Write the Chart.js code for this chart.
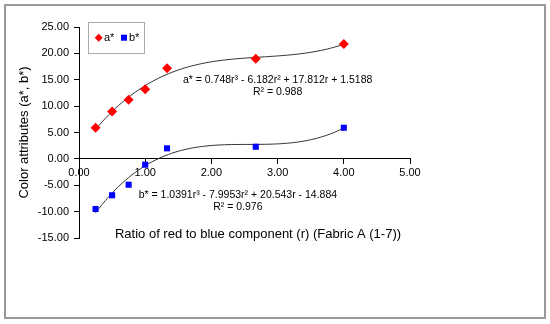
<!DOCTYPE html>
<html>
<head>
<meta charset="utf-8">
<script src="https://cdn.jsdelivr.net/npm/chart.js@4/dist/chart.umd.min.js"></script>
<style>
  html, body { margin: 0; padding: 0; background: #fff; }
  canvas { display: block; }
</style>
</head>
<body>
<canvas id="colorChart" width="550" height="324"></canvas>
<script>
// ratio r and measured colour attributes (Fabric A, samples 1-7)
const ratios = [0.25, 0.5, 0.75, 1.0, 1.33, 2.67, 4.0];
const aStar = [5.9, 9.0, 11.2, 13.2, 17.2, 19.0, 21.8];
const bStar = [-9.5, -6.9, -4.9, -1.1, 2.0, 2.3, 5.9];

// printed trendline equations (3rd order polynomial, highest power first)
const aCoef = [0.748, -6.182, 17.812, 1.5188];
const bCoef = [1.0391, -7.9953, 20.543, -14.884];
const trendFrom = 0.25;
const trendTo = 4.0;

const xTicks = [0, 1, 2, 3, 4, 5];
const yTicks = [-15, -10, -5, 0, 5, 10, 15, 20, 25];

const aLabel = ['a* = 0.748r³ - 6.182r² + 17.812r + 1.5188', 'R² = 0.988'];
const bLabel = ['b* = 1.0391r³ - 7.9953r² + 20.543r - 14.884', 'R² = 0.976'];

const FONT = "'Liberation Sans', Arial, sans-serif";

function poly(coef, r) {
    return coef.reduce((acc, c) => acc * r + c, 0);
}

function trendPoints(coef) {
    const pts = [];
    for (let i = 0; i <= 75; i++) {
        const r = trendFrom + (trendTo - trendFrom) * i / 75;
        pts.push({ x: r, y: poly(coef, r) });
    }
    return pts;
}

const toPoints = ys => ratios.map((r, i) => ({ x: r, y: ys[i] }));

// frame, legend, equations and x title
const extras = {
    id: 'extras',
    afterDraw(chart) {
        const ctx = chart.ctx;
        const xs = chart.scales.x;
        const ys = chart.scales.y;
        ctx.save();

        ctx.strokeStyle = '#999';
        ctx.lineWidth = 2;
        ctx.strokeRect(5, 5, 540, 313);

        // legend
        ctx.strokeStyle = '#aaa';
        ctx.lineWidth = 1;
        ctx.strokeRect(88.5, 22.5, 56, 31);
        ctx.fillStyle = '#ff0000';
        ctx.beginPath();
        ctx.moveTo(98.7, 33.7);
        ctx.lineTo(102.7, 37.7);
        ctx.lineTo(98.7, 41.7);
        ctx.lineTo(94.7, 37.7);
        ctx.closePath();
        ctx.fill();
        ctx.fillStyle = '#0000ff';
        ctx.fillRect(121, 34.7, 6, 6);
        ctx.fillStyle = '#000';
        ctx.font = '11px ' + FONT;
        ctx.textBaseline = 'middle';
        ctx.textAlign = 'left';
        ctx.fillText('a*', 104, 38);
        ctx.fillText('b*', 129, 38);

        // equations
        ctx.textAlign = 'center';
        ctx.font = '10.5px ' + FONT;
        let ax = xs.getPixelForValue(3.0), ay = ys.getPixelForValue(15.0);
        ctx.fillText(aLabel[0], ax, ay);
        ctx.fillText(aLabel[1], ax, ay + 12);
        let bx = xs.getPixelForValue(2.4), by = ys.getPixelForValue(-6.8);
        ctx.fillText(bLabel[0], bx, by);
        ctx.fillText(bLabel[1], bx, by + 12);

        // x axis title
        ctx.font = '13px ' + FONT;
        ctx.fillText('Ratio of red to blue component (r) (Fabric A (1-7))', 258, 234);
        ctx.restore();
    }
};

new Chart(document.getElementById('colorChart'), {
    type: 'scatter',
    data: {
        datasets: [{
            label: 'a*',
            data: toPoints(aStar),
            pointStyle: 'rectRot',
            pointRadius: 5,
            backgroundColor: '#ff0000',
            borderColor: '#ff0000',
            borderWidth: 0,
            order: 1
        }, {
            label: 'b*',
            data: toPoints(bStar),
            pointStyle: 'rect',
            pointRadius: 4.3,
            backgroundColor: '#0000ff',
            borderColor: '#0000ff',
            borderWidth: 0,
            order: 1
        }, {
            label: 'a* trend',
            data: trendPoints(aCoef),
            showLine: true,
            pointRadius: 0,
            borderColor: '#333',
            borderWidth: 1,
            order: 2
        }, {
            label: 'b* trend',
            data: trendPoints(bCoef),
            showLine: true,
            pointRadius: 0,
            borderColor: '#333',
            borderWidth: 1,
            order: 2
        }]
    },
    options: {
        responsive: false,
        devicePixelRatio: 1,
        animation: false,
        layout: { padding: { left: 17, top: 27, right: 140, bottom: 86 } },
        plugins: {
            legend: { display: false },
            tooltip: { enabled: false }
        },
        scales: {
            x: {
                type: 'linear',
                position: { y: 0 },
                min: 0,
                max: 5,
                afterBuildTicks: s => { s.ticks = xTicks.map(v => ({ value: v })); },
                ticks: {
                    color: '#000',
                    font: { family: FONT, size: 11 },
                    padding: 2,
                    maxRotation: 0,
                    callback: v => v.toFixed(2)
                },
                grid: { drawOnChartArea: false, drawTicks: true, tickLength: 5, color: '#000' },
                border: { display: true, color: '#000', width: 1 }
            },
            y: {
                type: 'linear',
                min: -15,
                max: 25,
                afterBuildTicks: s => { s.ticks = yTicks.map(v => ({ value: v })); },
                afterFit: s => { s.width = 62; },
                ticks: {
                    color: '#000',
                    font: { family: FONT, size: 11 },
                    padding: 5,
                    callback: v => v.toFixed(2)
                },
                grid: { drawOnChartArea: false, drawTicks: true, tickLength: 5, color: '#000' },
                border: { display: true, color: '#000', width: 1 },
                title: {
                    display: true,
                    text: 'Color attributes (a*, b*)',
                    color: '#000',
                    font: { family: FONT, size: 13 },
                    padding: 0
                }
            }
        }
    },
    plugins: [extras]
});
</script>
</body>
</html>
